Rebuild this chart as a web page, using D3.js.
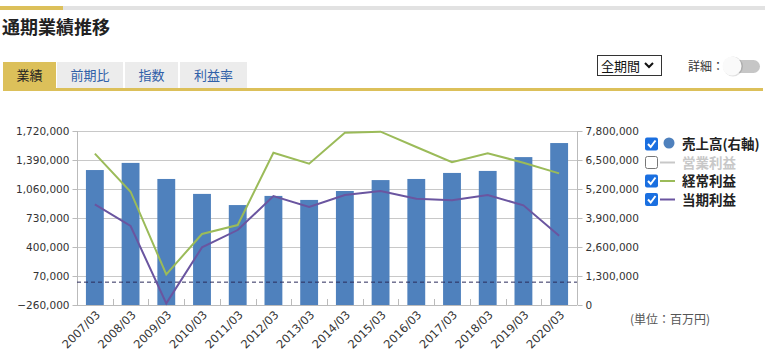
<!DOCTYPE html>
<html><head><meta charset="utf-8">
<script src="https://cdn.jsdelivr.net/npm/d3@7"></script>
<style>
html,body{margin:0;padding:0;background:#fff;}
svg{display:block;font-family:"Noto Sans CJK JP","Noto Sans",sans-serif;}
</style></head>
<body>
<svg id="c" width="771" height="359"></svg>
<script>
const categories = ["2007/03","2008/03","2009/03","2010/03","2011/03","2012/03","2013/03","2014/03","2015/03","2016/03","2017/03","2018/03","2019/03","2020/03"];
const sales = [6050000,6370000,5650000,4980000,4480000,4890000,4710000,5110000,5600000,5650000,5920000,6010000,6630000,7260000];
const ordinaryProfit = [1462000,1029000,89000,548000,650000,1473000,1348000,1701000,1712000,1538000,1365000,1467000,1359000,1238000];
const netProfit = [886000,639000,-241000,396000,593000,980000,855000,992000,1037000,950000,931000,992000,874000,529000];
const leftTicks = [-260000,70000,400000,730000,1060000,1390000,1720000];
const rightTicks = [0,1300000,2600000,3900000,5200000,6500000,7800000];
const tabs = ["業績","前期比","指数","利益率"];
const legendItems = [
  {label:"売上高(右軸)", type:"dot", color:"#4f81bd", on:true},
  {label:"営業利益", type:"line", color:"#c8c8c8", on:false},
  {label:"経常利益", type:"line", color:"#9bbb59", on:true},
  {label:"当期利益", type:"line", color:"#6a55a0", on:true}
];

const svg = d3.select("#c");
const numFont = "'DejaVu Sans',Verdana,sans-serif";

// header
svg.append("rect").attr("x",0).attr("y",6).attr("width",765).attr("height",4).attr("fill","#e2e2e2");
svg.append("rect").attr("x",0).attr("y",6).attr("width",63).attr("height",4).attr("fill","#dcc05a");
svg.append("text").attr("x",2).attr("y",34).attr("font-size",18).attr("font-weight","bold").attr("fill","#222").text("通期業績推移");

const tabX = [3,57,125,180], tabW = [53,66,53,67];
tabs.forEach((t,i)=>{
  svg.append("rect").attr("x",tabX[i]).attr("y",62).attr("width",tabW[i]).attr("height",27)
    .attr("fill", i===0 ? "#dcc05a" : "#ececec");
  svg.append("text").attr("x",tabX[i]+tabW[i]/2).attr("y",80).attr("text-anchor","middle")
    .attr("font-size",13).attr("fill", i===0 ? "#222" : "#3060a8").text(t);
});
svg.append("rect").attr("x",3).attr("y",88).attr("width",760).attr("height",3).attr("fill","#dcc05a");

// select
svg.append("rect").attr("x",597.5).attr("y",55.5).attr("width",64).attr("height",20).attr("fill","#fff").attr("stroke","#333");
svg.append("text").attr("x",601).attr("y",71).attr("font-size",13).attr("fill","#111").text("全期間");
svg.append("path").attr("d","M645,63 L649,67 L653,63").attr("fill","none").attr("stroke","#111").attr("stroke-width",2);
svg.append("text").attr("x",688).attr("y",71).attr("font-size",12).attr("fill","#333").text("詳細：");
svg.append("rect").attr("x",724).attr("y",60).attr("width",36).attr("height",13).attr("rx",6.5).attr("fill","#c6c6c6");
svg.append("circle").attr("cx",733).attr("cy",66.5).attr("r",10).attr("fill","#000").attr("opacity",0.12);
svg.append("circle").attr("cx",732).attr("cy",66).attr("r",9.5).attr("fill","#fafafa");

// chart
const L = 77, R = 577, T = 131, B = 305;
const x = d3.scaleBand().domain(categories).range([L,R]).paddingInner(0.5).paddingOuter(0.25);
const step = x.step();
const cx = d => x(d) + x.bandwidth()/2;
const yL = d3.scaleLinear().domain([-260000,1720000]).range([B,T]);
const yR = d3.scaleLinear().domain([0,7800000]).range([B,T]);

// grid
svg.append("g").selectAll("line").data(leftTicks.slice(1)).join("line")
  .attr("x1",L).attr("x2",R).attr("y1",d=>Math.round(yL(d))+0.5).attr("y2",d=>Math.round(yL(d))+0.5)
  .attr("stroke","#c8c8c8").attr("stroke-width",1);

// left axis
const gL = svg.append("g").attr("transform",`translate(${L+0.5},0)`)
  .call(d3.axisLeft(yL).tickValues(leftTicks).tickSize(5).tickPadding(3).tickFormat(d3.format(",")));
gL.selectAll("text").attr("font-family",numFont).attr("font-size",10.5).attr("fill","#333");
gL.selectAll("line,path").attr("stroke","#bbb");
gL.select(".domain").attr("d",`M0,${T}V${B}`);

// right axis
const gR = svg.append("g").attr("transform",`translate(${R+0.5},0)`)
  .call(d3.axisRight(yR).tickValues(rightTicks).tickSize(5).tickPadding(3).tickFormat(d3.format(",")));
gR.selectAll("text").attr("font-family",numFont).attr("font-size",10.5).attr("fill","#333");
gR.selectAll("line,path").attr("stroke","#bbb");
gR.select(".domain").attr("d",`M0,${T}V${B}`);

// bars
svg.append("g").selectAll("rect").data(sales).join("rect")
  .attr("x",(d,i)=>x(categories[i])).attr("width",x.bandwidth())
  .attr("y",d=>yR(d)).attr("height",d=>B-yR(d)).attr("fill","#4f81bd");

// bottom axis
const gB = svg.append("g").attr("transform",`translate(0,${B+0.5})`)
  .call(d3.axisBottom(x).tickSize(0).tickPadding(0));
gB.select(".domain").attr("d",`M${L},0H${R}`).attr("stroke","#bbb");
gB.selectAll(".tick text")
  .attr("font-family",numFont).attr("font-size",11.5).attr("fill","#333")
  .attr("text-anchor","end").attr("dy",0)
  .attr("transform","translate(6,10) rotate(-45)");
// band boundary ticks (inside, upward)
svg.append("g").selectAll("line").data(categories.slice(1)).join("line")
  .attr("x1",d=>Math.round(x(d)-step*0.25)+0.5).attr("x2",d=>Math.round(x(d)-step*0.25)+0.5)
  .attr("y1",B-6).attr("y2",B).attr("stroke","#bbb");

// zero dashed line (left axis)
svg.append("line").attr("x1",L).attr("x2",R).attr("y1",yL(0)).attr("y2",yL(0))
  .attr("stroke","#2a2a5a").attr("stroke-width",1).attr("stroke-dasharray","4,3");

// lines
const line = d3.line().x((d,i)=>cx(categories[i])).y(d=>yL(d));
svg.append("path").datum(ordinaryProfit).attr("d",line).attr("fill","none").attr("stroke","#9bbb59").attr("stroke-width",2);
svg.append("path").datum(netProfit).attr("d",line).attr("fill","none").attr("stroke","#6a55a0").attr("stroke-width",2);

// legend
const lg = svg.append("g");
legendItems.forEach((it,i)=>{
  const yy = 144 + i*18.5;
  const g = lg.append("g").attr("transform",`translate(0,${yy})`);
  if (it.on) {
    g.append("rect").attr("x",645).attr("y",-6.5).attr("width",13).attr("height",13).attr("rx",2).attr("fill","#1a6fe0");
    g.append("path").attr("d","M648,0 L650.7,3 L655.5,-3.5").attr("fill","none").attr("stroke","#fff").attr("stroke-width",2);
  } else {
    g.append("rect").attr("x",645.5).attr("y",-6).attr("width",12).attr("height",12).attr("rx",2).attr("fill","#fff").attr("stroke","#777");
  }
  if (it.type==="dot") {
    g.append("circle").attr("cx",669).attr("cy",-1).attr("r",5.5).attr("fill",it.color);
  } else {
    g.append("line").attr("x1",660).attr("x2",675).attr("y1",0).attr("y2",0).attr("stroke",it.color).attr("stroke-width",2);
  }
  g.append("text").attr("x",682).attr("y",5).attr("font-size",13.5).attr("font-weight","bold")
    .attr("fill", it.on ? "#222" : "#c8c8c8").text(it.label);
});

svg.append("text").attr("x",630).attr("y",324).attr("font-size",12).attr("fill","#555").text("(単位：百万円)");
</script>
</body></html>
